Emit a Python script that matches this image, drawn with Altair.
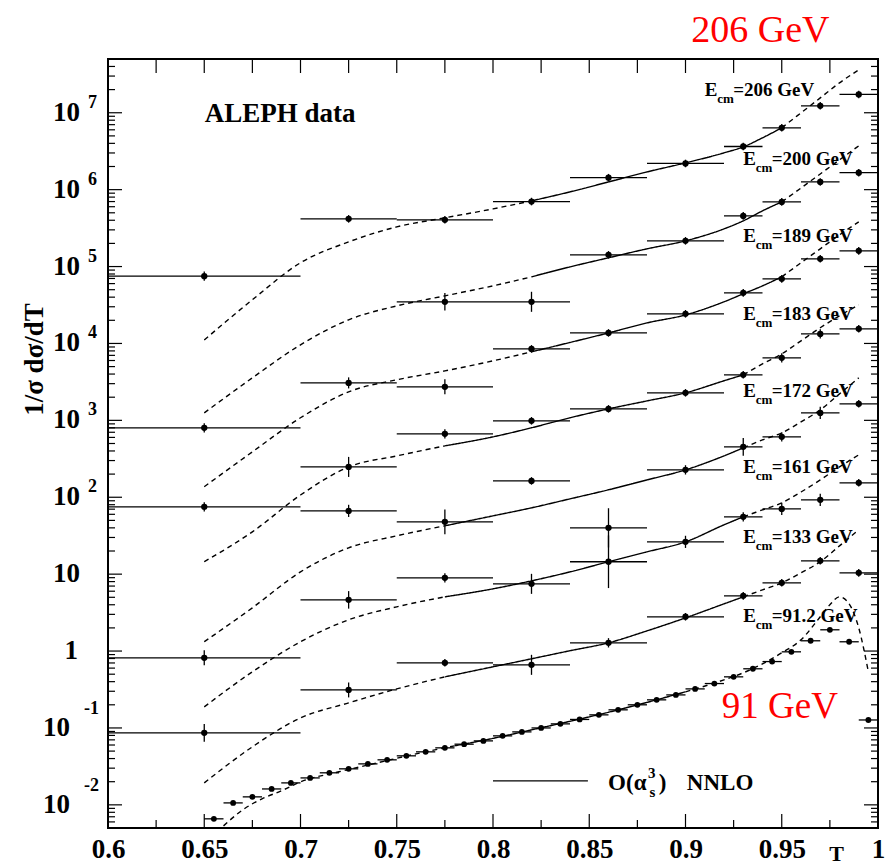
import altair as alt
import pandas as pd

# ---------------- values ----------------
# high-energy data: bins in thrust T
T_CENTER = [0.65, 0.725, 0.775, 0.82, 0.86, 0.90, 0.93, 0.95, 0.97, 0.99]
T_LOW = [0.60, 0.70, 0.75, 0.80, 0.84, 0.88, 0.92, 0.94, 0.96, 0.98]
T_HIGH = [0.70, 0.75, 0.80, 0.84, 0.88, 0.92, 0.94, 0.96, 0.98, 1.00]

DATA_206 = [7.5e4, 4.17e5, 4.05e5, 7.0e5, 1.43e6, 2.19e6, 3.64e6, 6.37e6, 1.23e7, 1.73e7]
ERR_206 = [0.15, 0.12, 0.12, 0.12, 0.12, 0.12, 0.12, 0.12, 0.12, 0.12]
DATA_200 = [800, None, 3.48e4, 3.48e4, 1.42e5, 2.16e5, 4.56e5, 6.93e5, 1.26e6, 1.66e6]
ERR_200 = [0.15, 0.0, 0.30, 0.35, 0.12, 0.12, 0.12, 0.12, 0.12, 0.12]
DATA_189 = [75, 3.07e3, 2.73e3, 8.5e3, 1.37e4, 2.43e4, 4.55e4, 6.92e4, 1.26e5, 1.60e5]
ERR_189 = [0.15, 0.18, 0.25, 0.12, 0.12, 0.12, 0.12, 0.12, 0.12, 0.12]
DATA_183 = [None, 248, 668, 986, 1.41e3, 2.28e3, 3.91e3, 6.5e3, 1.33e4, 1.55e4]
ERR_183 = [0.0, 0.35, 0.15, 0.12, 0.12, 0.12, 0.12, 0.15, 0.15, 0.12]
DATA_172 = [0.817, 66.5, 47.9, 163, 40, 227, 452, 611, 1.25e3, 1.64e3]
ERR_172 = [0.25, 0.20, 0.45, 0.12, 0.80, 0.15, 0.30, 0.15, 0.20, 0.12]
DATA_161 = [0.0863, 4.63, 8.95, 7.48, 14.5, 26.3, 55.6, 70.6, 92.5, 154]
ERR_161 = [0.30, 0.30, 0.15, 0.35, 1.20, 0.20, 0.15, 0.20, 0.20, 0.12]
DATA_133 = [None, 0.312, 0.703, 0.662, 1.28, 2.79, 5.22, 7.71, 14.9, 10.4]
ERR_133 = [0.0, 0.25, 0.12, 0.35, 0.15, 0.12, 0.12, 0.12, 0.12, 0.12]

# 91.2 GeV data, fine bins of width 0.01
T_91 = [0.655, 0.665, 0.675, 0.685, 0.695, 0.705, 0.715, 0.725, 0.735, 0.745,
        0.755, 0.765, 0.775, 0.785, 0.795, 0.805, 0.815, 0.825, 0.835, 0.845,
        0.855, 0.865, 0.875, 0.885, 0.895, 0.905, 0.915, 0.925, 0.935, 0.945,
        0.955, 0.965, 0.975, 0.985, 0.995]
DATA_91 = [0.00658, 0.0106, 0.0127, 0.0161, 0.0193, 0.0224, 0.0261, 0.0294, 0.0341, 0.0385,
           0.0434, 0.0489, 0.0551, 0.0615, 0.0679, 0.0789, 0.0889, 0.100, 0.113, 0.129,
           0.148, 0.172, 0.200, 0.232, 0.269, 0.322, 0.378, 0.462, 0.588, 0.730,
           0.977, 1.36, 1.89, 1.32, 0.127]
BIN_91 = 0.01

# theory curves  O(alpha_s^3) NNLO
CURVE_T = [0.65, 0.675, 0.70, 0.725, 0.75, 0.775, 0.80, 0.82, 0.84, 0.86,
           0.88, 0.90, 0.92, 0.93, 0.94, 0.95, 0.96, 0.97, 0.98, 0.99]
CURVE_206 = [1.11e4, 3.7e4, 1.12e5, 2.09e5, 3.28e5, 4.30e5, 5.62e5, 7.15e5, 9.35e5, 1.26e6,
             1.70e6, 2.23e6, 3.01e6, 3.60e6, 4.72e6, 6.37e6, 9.97e6, 1.56e7, 2.45e7, 3.61e7]
CURVE_200 = [1.25e3, 3.57e3, 9.6e3, 2.03e4, 3.08e4, 4.16e4, 5.61e4, 7.35e4, 9.9e4, 1.30e5,
             1.70e5, 2.16e5, 3.09e5, 3.93e5, 5.30e5, 6.93e5, 1.05e6, 1.60e6, 2.44e6, 3.71e6]
CURVE_189 = [137, 389, 1.08e3, 2.35e3, 3.37e3, 4.40e3, 5.94e3, 7.78e3, 1.03e4, 1.37e4,
             1.85e4, 2.35e4, 3.48e4, 4.42e4, 5.61e4, 7.35e4, 1.12e5, 1.70e5, 2.58e5, 3.81e5]
CURVE_183 = [14.5, 35.5, 107, 248, 345, 466, 610, 800, 1.08e3, 1.41e3,
             1.79e3, 2.28e3, 3.27e3, 3.91e3, 5.43e3, 7.33e3, 1.08e4, 1.60e4, 2.29e4, 3.18e4]
CURVE_172 = [1.32, 3.65, 10.7, 22.0, 31.5, 42.5, 57.3, 72.8, 95.3, 125,
             168, 227, 345, 439, 557, 687, 955, 1.37e3, 2.21e3, 3.57e3]
CURVE_161 = [0.188, 0.537, 1.32, 2.55, 3.76, 5.07, 6.44, 8.18, 10.7, 14.5,
             19.5, 26.3, 43.8, 55.6, 68.6, 84.6, 117, 168, 248, 356]
CURVE_133 = [0.0193, 0.0568, 0.135, 0.212, 0.322, 0.462, 0.624, 0.793, 1.01, 1.28,
             1.83, 2.70, 4.11, 5.07, 6.25, 7.71, 10.4, 14.5, 23.3, 37.7]
CURVE_91_T = [0.66, 0.67, 0.68, 0.69, 0.70, 0.72, 0.74, 0.76, 0.78, 0.80, 0.82, 0.84, 0.86,
              0.88, 0.90, 0.92, 0.93, 0.94, 0.95, 0.96, 0.97, 0.975, 0.98, 0.985, 0.99, 0.995]
CURVE_91 = [0.00533, 0.00861, 0.0120, 0.0152, 0.0199, 0.0269, 0.0352, 0.0460, 0.0585, 0.0732,
            0.0944, 0.122, 0.160, 0.215, 0.295, 0.422, 0.521, 0.682, 0.948, 1.40, 2.79, 3.99,
            5.07, 4.11, 2.00, 0.537]

# fit ranges (solid part of each curve)
FIT = {"206": (0.82, 0.95), "200": (0.82, 0.95), "189": (0.82, 0.95),
       "183": (0.775, 0.93), "172": (0.775, 0.93), "161": (0.775, 0.93),
       "133": (0.775, 0.93), "91.2": (0.78, 0.90)}

# ---------------- tables ----------------
series = [("206", DATA_206, ERR_206), ("200", DATA_200, ERR_200), ("189", DATA_189, ERR_189),
          ("183", DATA_183, ERR_183), ("172", DATA_172, ERR_172), ("161", DATA_161, ERR_161),
          ("133", DATA_133, ERR_133)]
rows = []
for name, vals, errs in series:
    for tc, tl, th, v, e in zip(T_CENTER, T_LOW, T_HIGH, vals, errs):
        if v is None:
            continue
        rows.append(dict(s=name, T=tc, Tlo=tl, Thi=th, v=v, vlo=v / (1 + e), vhi=v * (1 + e)))
hi_df = pd.DataFrame(rows)
lo_df = pd.DataFrame(dict(s="91.2", T=T_91, v=DATA_91,
                          Tlo=[t - BIN_91 / 2 for t in T_91], Thi=[t + BIN_91 / 2 for t in T_91]))

curves = {"206": (CURVE_T, CURVE_206), "200": (CURVE_T, CURVE_200), "189": (CURVE_T, CURVE_189),
          "183": (CURVE_T, CURVE_183), "172": (CURVE_T, CURVE_172), "161": (CURVE_T, CURVE_161),
          "133": (CURVE_T, CURVE_133), "91.2": (CURVE_91_T, CURVE_91)}
crow = []
for name, (ts, vs) in curves.items():
    a, b = FIT[name]
    for seg, style, cond in [("a", "dash", lambda t: t <= a + 1e-9),
                             ("b", "solid", lambda t: a - 1e-9 <= t <= b + 1e-9),
                             ("c", "dash", lambda t: t >= b - 1e-9)]:
        for t, v in zip(ts, vs):
            if cond(t):
                crow.append(dict(seg=name + seg, style=style, T=t, v=v))
curve_df = pd.DataFrame(crow)

# ---------------- scales, axes & helpers ----------------
W, H = 770, 769
FONT = "Liberation Serif"
xs = alt.Scale(domain=[0.6, 1.0], nice=False, zero=False)
ys = alt.Scale(type="log", domain=[5e-3, 5e7], nice=False)

XMAJ = [0.6, 0.65, 0.7, 0.75, 0.8, 0.85, 0.9, 0.95, 1.0]
XMIN = [0.625, 0.675, 0.725, 0.775, 0.825, 0.875, 0.925, 0.975]
YMAJ = [10.0 ** k for k in range(-2, 8)]
YMIN = [m * 10.0 ** k for k in range(-3, 8) for m in range(2, 10) if 5e-3 < m * 10.0 ** k < 5e7]

xaxis = alt.Axis(values=XMAJ, format=".2~f", ticks=False, domain=False, grid=False,
                 labelFont=FONT, labelFontWeight="bold", labelFontSize=27, labelColor="black",
                 labelPadding=8, labelFlush=False, labelOverlap=False,
                 title="T", titleFont=FONT, titleFontWeight="bold", titleFontSize=22,
                 titleColor="black", titleX=728, titleY=32, titleAlign="center",
                 titleBaseline="alphabetic")
yaxis = alt.Axis(labels=False, ticks=False, domain=False, grid=False,
                 title="1/σ dσ/dT", titleFont=FONT, titleFontWeight="bold", titleFontSize=27,
                 titleColor="black", titleAngle=270, titleX=-66, titleY=300,
                 titleAlign="center", titleBaseline="alphabetic")


def X(f="T"):
    return alt.X(f"{f}:Q", scale=xs, axis=xaxis)


def Y(f="v"):
    return alt.Y(f"{f}:Q", scale=ys, axis=yaxis)


TK = dict(color="black", strokeWidth=1.2)
layers = []
# x ticks (bottom: major 14, minor 8; top: all 14)
layers.append(alt.Chart(pd.DataFrame({"T": XMAJ})).mark_rule(**TK).encode(
    x=X(), y=alt.value(H), y2=alt.value(H - 14)))
layers.append(alt.Chart(pd.DataFrame({"T": XMIN})).mark_rule(**TK).encode(
    x=X(), y=alt.value(H), y2=alt.value(H - 8)))
layers.append(alt.Chart(pd.DataFrame({"T": XMAJ + XMIN})).mark_rule(**TK).encode(
    x=X(), y=alt.value(0), y2=alt.value(14)))
# y ticks
layers.append(alt.Chart(pd.DataFrame({"v": YMAJ})).mark_rule(**TK).encode(
    y=Y(), x=alt.value(0), x2=alt.value(14)))
layers.append(alt.Chart(pd.DataFrame({"v": YMAJ})).mark_rule(**TK).encode(
    y=Y(), x=alt.value(W - 14), x2=alt.value(W)))
layers.append(alt.Chart(pd.DataFrame({"v": YMIN})).mark_rule(**TK).encode(
    y=Y(), x=alt.value(0), x2=alt.value(7)))
layers.append(alt.Chart(pd.DataFrame({"v": YMIN})).mark_rule(**TK).encode(
    y=Y(), x=alt.value(W - 7), x2=alt.value(W)))

# y tick labels  (10 with exponent)
pos_exp = pd.DataFrame({"v": [1e2, 1e3, 1e4, 1e5, 1e6, 1e7], "t": ["2", "3", "4", "5", "6", "7"]})
layers.append(alt.Chart(pos_exp).mark_text(font=FONT, fontWeight="bold", fontSize=27, align="right",
                                           baseline="middle", color="black").encode(
    y=Y(), x=alt.value(-28), text=alt.value("10")))
layers.append(alt.Chart(pos_exp).mark_text(font=FONT, fontWeight="bold", fontSize=18, align="left",
                                           baseline="alphabetic", dy=-5, color="black").encode(
    y=Y(), x=alt.value(-20), text="t:N"))
layers.append(alt.Chart(pd.DataFrame({"v": [10.0]})).mark_text(
    font=FONT, fontWeight="bold", fontSize=27, align="right", baseline="middle", color="black").encode(
    y=Y(), x=alt.value(-28), text=alt.value("10")))
layers.append(alt.Chart(pd.DataFrame({"v": [1.0]})).mark_text(
    font=FONT, fontWeight="bold", fontSize=27, align="right", baseline="middle", color="black").encode(
    y=Y(), x=alt.value(-30), text=alt.value("1")))
neg_exp = pd.DataFrame({"v": [0.1, 0.01], "t": ["-1", "-2"]})
layers.append(alt.Chart(neg_exp).mark_text(font=FONT, fontWeight="bold", fontSize=27, align="right",
                                           baseline="middle", color="black").encode(
    y=Y(), x=alt.value(-38), text=alt.value("10")))
layers.append(alt.Chart(neg_exp).mark_text(font=FONT, fontWeight="bold", fontSize=18, align="right",
                                           baseline="alphabetic", dy=-14, color="black").encode(
    y=Y(), x=alt.value(-9), text="t:N"))

# theory curves
layers.append(alt.Chart(curve_df).mark_line(color="black", strokeWidth=1.4, interpolate="monotone",
                                            clip=True).encode(
    x=X(), y=Y(), detail="seg:N",
    strokeDash=alt.StrokeDash("style:N", scale=alt.Scale(domain=["solid", "dash"],
                                                         range=[[1, 0], [5, 4]]), legend=None)))

# data: horizontal bin bars, vertical error bars, points
EB = dict(color="black", strokeWidth=1.3)
layers.append(alt.Chart(hi_df).mark_rule(**EB).encode(x=X("Tlo"), x2="Thi:Q", y=Y()))
layers.append(alt.Chart(hi_df).mark_rule(**EB).encode(x=X(), y=Y("vlo"), y2="vhi:Q"))
layers.append(alt.Chart(lo_df).mark_rule(**EB).encode(x=X("Tlo"), x2="Thi:Q", y=Y()))
layers.append(alt.Chart(hi_df).mark_circle(color="black", size=40, opacity=1).encode(x=X(), y=Y()))
layers.append(alt.Chart(lo_df).mark_circle(color="black", size=34, opacity=1).encode(x=X(), y=Y()))

# energy labels E_cm=... GeV
LABEL_TEXT = ["=206 GeV", "=200 GeV", "=189 GeV", "=183 GeV", "=172 GeV", "=161 GeV",
              "=133 GeV", "=91.2 GeV"]
LABEL_T = [0.91, 0.93, 0.93, 0.93, 0.93, 0.93, 0.93, 0.93]
LABEL_V = [1.66e7, 2.10e6, 2.09e5, 2.03e4, 2.02e3, 207, 25.5, 2.40]
lab = pd.DataFrame({"T": LABEL_T, "v": LABEL_V, "t": LABEL_TEXT})
LF = dict(font=FONT, fontWeight="bold", color="black", align="left", baseline="alphabetic")
layers.append(alt.Chart(lab).mark_text(fontSize=19, **LF).encode(x=X(), y=Y(), text=alt.value("E")))
layers.append(alt.Chart(lab).mark_text(fontSize=13, dx=12.5, dy=7, **LF).encode(
    x=X(), y=Y(), text=alt.value("cm")))
layers.append(alt.Chart(lab).mark_text(fontSize=19, dx=28.5, **LF).encode(x=X(), y=Y(), text="t:N"))

# ALEPH data
layers.append(alt.Chart(pd.DataFrame({"T": [0.6502], "v": [7.69e6]})).mark_text(
    fontSize=27, **LF).encode(x=X(), y=Y(), text=alt.value("ALEPH data")))

# legend: line + O(alpha_s^3) NNLO
layers.append(alt.Chart(pd.DataFrame({"T": [0.80], "T2": [0.8493], "v": [0.0205]})).mark_rule(
    color="black", strokeWidth=1.3).encode(x=X(), x2="T2:Q", y=Y()))
leg = pd.DataFrame({"T": [0.8598], "v": [0.01567]})
layers.append(alt.Chart(leg).mark_text(fontSize=23, **LF).encode(x=X(), y=Y(), text=alt.value("O(α")))
layers.append(alt.Chart(leg).mark_text(fontSize=15, dx=40, dy=-12, **LF).encode(
    x=X(), y=Y(), text=alt.value("3")))
layers.append(alt.Chart(leg).mark_text(fontSize=15, dx=41.5, dy=7, **LF).encode(
    x=X(), y=Y(), text=alt.value("s")))
layers.append(alt.Chart(leg).mark_text(fontSize=23, dx=50.7, **LF).encode(x=X(), y=Y(), text=alt.value(")")))
layers.append(alt.Chart(leg).mark_text(fontSize=23, dx=78.7, **LF).encode(
    x=X(), y=Y(), text=alt.value("NNLO")))

# red energy annotations
RED = dict(font=FONT, color="#ff0000", align="center", baseline="alphabetic")
layers.append(alt.Chart(pd.DataFrame({"T": [0.9389]})).mark_text(fontSize=38, **RED).encode(
    x=X(), y=alt.value(-17), text=alt.value("206 GeV")))
layers.append(alt.Chart(pd.DataFrame({"T": [0.9490], "v": [0.135]})).mark_text(fontSize=37, **RED).encode(
    x=X(), y=Y(), text=alt.value("91 GeV")))

chart = alt.layer(*layers).properties(
    width=W, height=H,
    padding={"left": 108, "top": 59, "right": 7, "bottom": 38},
    autosize=alt.AutoSizeParams(type="none"),
    background="white",
).configure_view(stroke="black", strokeWidth=2)

chart.save("out.html", embed_options={"renderer": "svg", "actions": False})
